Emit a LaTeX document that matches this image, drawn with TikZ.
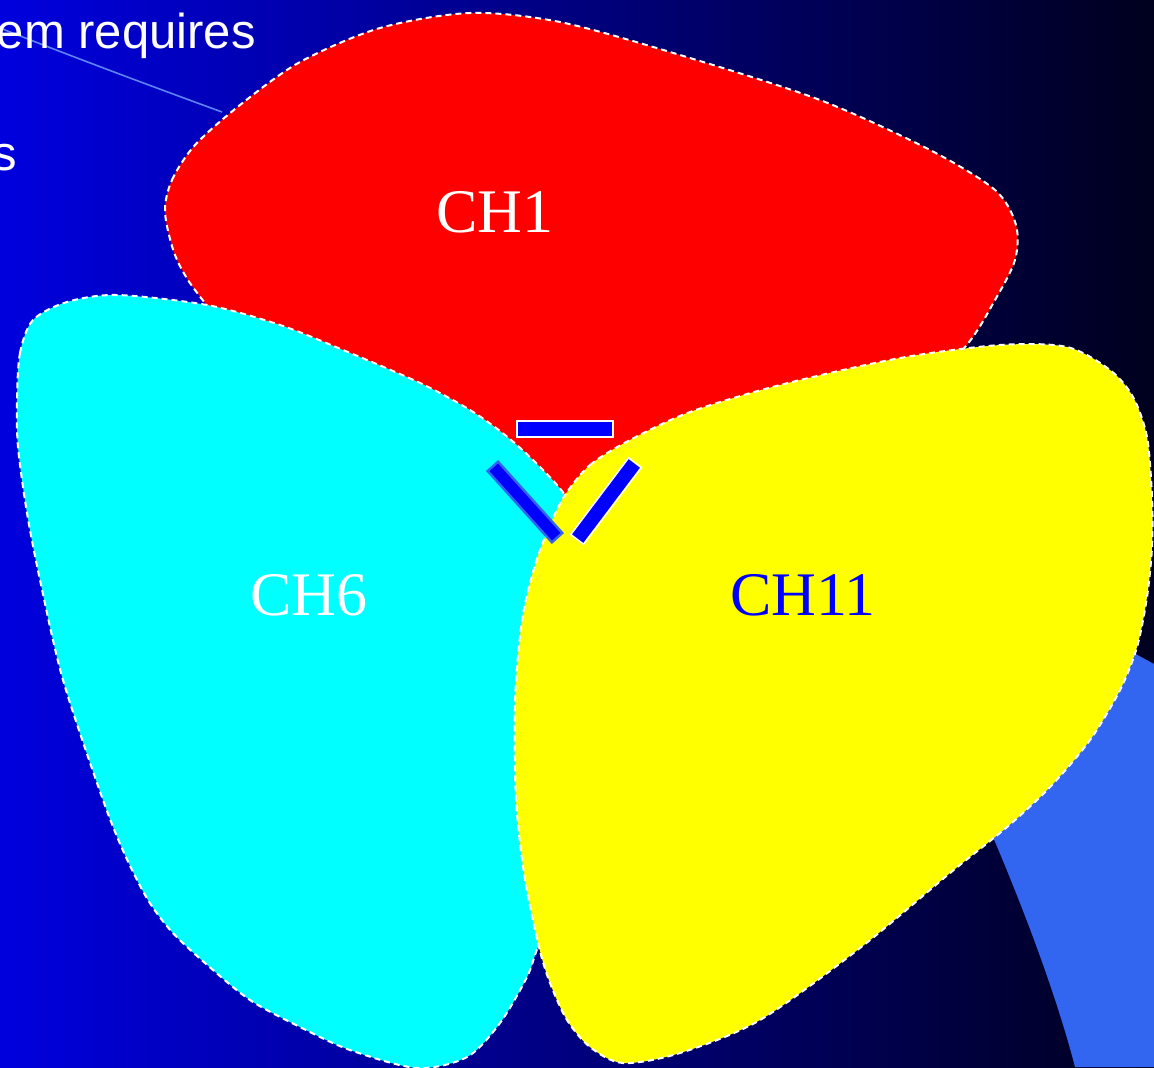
\documentclass[tikz,border=0pt]{standalone}
\usepackage{fontspec}
\setmainfont{Liberation Serif}
\setsansfont{Liberation Sans}
\definecolor{bgleft}{RGB}{0,0,222}
\definecolor{bgright}{RGB}{0,0,30}
\definecolor{ringblue}{RGB}{51,102,240}
\definecolor{barblue}{RGB}{0,0,255}
\definecolor{chred}{RGB}{255,0,0}
\definecolor{chcyan}{RGB}{0,255,255}
\definecolor{chyellow}{RGB}{255,255,0}

\begin{document}
\begin{tikzpicture}[x=0.5pt,y=-0.5pt]
  \tikzset{blob/.style={draw=white,line width=1pt,dash pattern=on 3pt off 2pt},
    bar/.style={draw=white,line width=0.8pt,fill=barblue,inner sep=0pt,outer sep=0pt,
      minimum width=48pt,minimum height=8pt},
    chlabel/.style={font=\fontsize{31}{37}\selectfont,anchor=base},
    slidetext/.style={font=\sffamily\fontsize{24.5}{29}\selectfont,text=white,inner sep=0pt}}
  \useasboundingbox (0,0) rectangle (1154,1067);
  \clip (0,0) rectangle (1154,1067);
  \shade[left color=bgleft,right color=bgright] (0,0) rectangle (1154,1067);
  \fill[ringblue] (1110,640) -- (1154,664) -- (1154,1067) -- (1075,1067)
    .. controls (1055,990) and (1020,900) .. (990,830) -- cycle;
  \draw[ringblue!80!white,line width=0.8pt] (-10,24) .. controls (60,52) and (140,82) .. (222,112);
  \node[slidetext,anchor=base east] (req) at (256,48) {em requires};
  \node[slidetext,anchor=base east] (tail) at (17,170) {s};
  % channels
  \filldraw[blob,fill=chred] plot[smooth cycle] coordinates {(165,212) (172,180) (195,145)
    (240,105) (300,62) (380,28) (470,13) (560,22) (680,55) (820,100) (930,150) (995,190)
    (1016,225) (1015,260) (995,300) (965,347) (900,410) (780,460) (660,490) (565,505)
    (450,440) (330,370) (230,325) (195,290) (175,255)};
  \filldraw[blob,fill=chcyan] plot[smooth cycle] coordinates {(17,400) (20,353) (33,320)
    (67,302) (117,295) (207,305) (280,325) (343,350) (420,383) (470,410) (505,435) (535,462)
    (565,495) (590,540) (600,650) (590,800) (560,900) (538,947) (527,977) (500,1023)
    (467,1057) (417,1068) (350,1050) (300,1027) (250,1000) (205,963) (172,932) (148,900)
    (125,855) (103,800) (63,680) (40,580) (27,513) (18,447)};
  \filldraw[blob,fill=chyellow] plot[smooth cycle] coordinates {(565,495) (590,465) (630,440)
    (690,412) (780,385) (900,358) (1000,345) (1067,347) (1110,370) (1133,397) (1147,437)
    (1152,497) (1152,547) (1147,597) (1137,647) (1120,690) (1090,740) (1050,787) (1007,827)
    (950,873) (860,948) (760,1020) (680,1053) (623,1063) (590,1047) (567,1020) (550,983)
    (539,947) (525,880) (516,800) (515,700) (522,620) (535,565) (550,525)};
  \node[chlabel,text=white] (ch1) at (495,232) {CH1};
  \node[chlabel,text=white] (ch6) at (309,615) {CH6};
  \node[chlabel,text=barblue] (ch11) at (803,615) {CH11};
  % antennas
  \node[bar] (bartop) at (565,429) {};
  \node[bar,draw=ringblue,line width=1.2pt,minimum height=7pt,rotate=-48] (barleft) at (525,502) {};
  \node[bar,rotate=53] (barright) at (606,501) {};
\end{tikzpicture}
\end{document}
